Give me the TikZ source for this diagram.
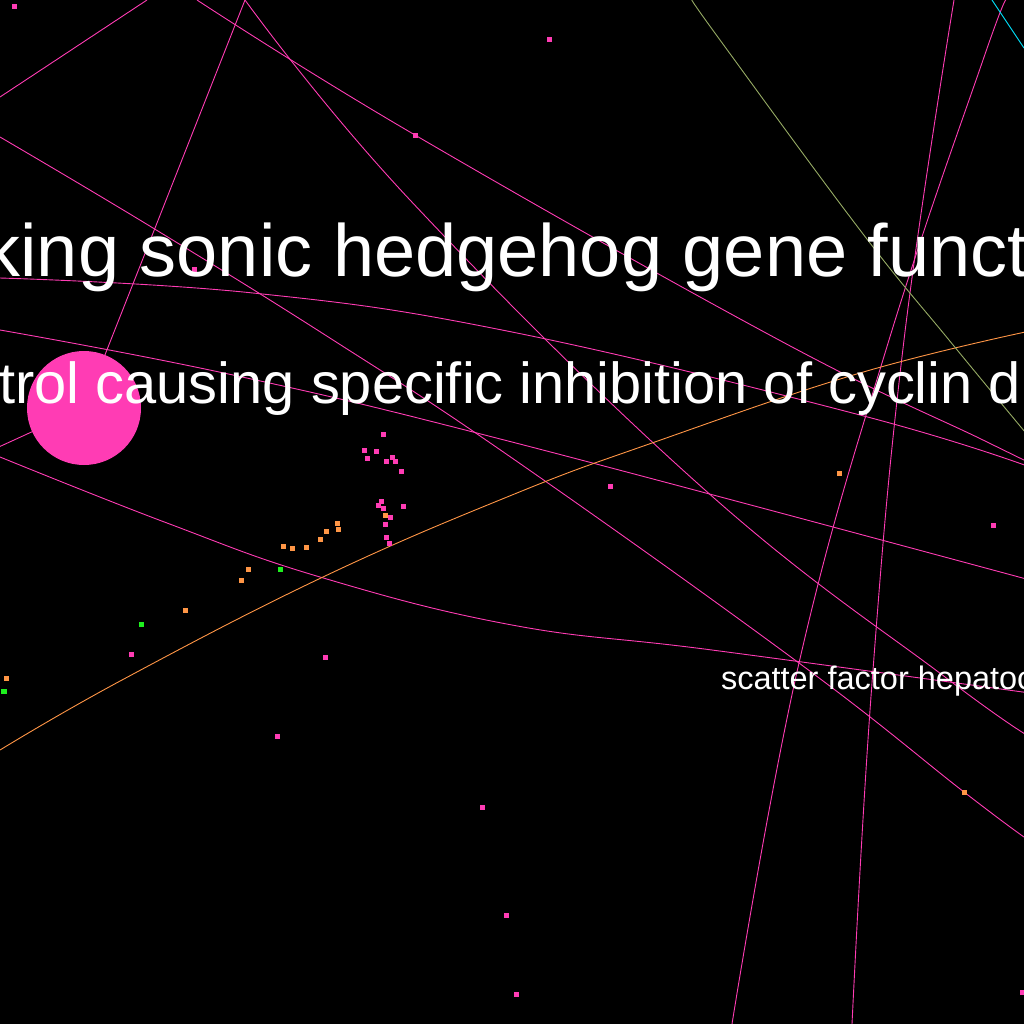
\documentclass[tikz,border=0pt]{standalone}
\usepackage{fontspec}
\setmainfont{Liberation Sans}
\definecolor{hpink}{RGB}{255,60,180}
\definecolor{horange}{RGB}{255,150,70}
\definecolor{hgreen}{RGB}{30,240,30}
\definecolor{hcyan}{RGB}{0,230,255}
\definecolor{holive}{RGB}{150,170,100}
\begin{document}
\begin{tikzpicture}[x=1bp,y=-1bp,
  pedge/.style={line width=0.9bp, draw=hpink},
  oedge/.style={line width=0.9bp, draw=horange},
  cedge/.style={line width=0.9bp, draw=hcyan},
  vedge/.style={line width=0.9bp, draw=holive},
  sq/.style={rectangle, inner sep=0, minimum size=5bp},
  pdot/.style={sq, fill=hpink},
  odot/.style={sq, fill=horange},
  gdot/.style={sq, fill=hgreen},
  hub/.style={circle, inner sep=0, minimum size=114bp, fill=hpink},
  lbl/.style={anchor=base west, inner sep=0, outer sep=0, text=white}]
\fill[black] (0,0) rectangle (1024,1024);
\useasboundingbox (0,0) rectangle (1024,1024);
\clip (0,0) rectangle (1024,1024);
\coordinate (hubc) at (84,408);
% edges
\draw[pedge] (0,97) -- (147,0);
\draw[pedge] plot[smooth, tension=0.7] coordinates {(0,137) (153,228) (333,340) (512,458) (799,663) (964,792) (1024,837)};
\draw[pedge] plot[smooth, tension=0.7] coordinates {(245,0) (410,200) (705,490) (945,677) (1030,737)};
\draw[pedge] plot[smooth, tension=0.7] coordinates {(197,0) (415,135) (779,340) (983,440) (1030,463)};
\draw[pedge] plot[smooth, tension=0.7] coordinates {(0,278) (253,293) (512,332) (860,415) (1030,467)};
\draw[pedge] plot[smooth, tension=0.7] coordinates {(0,330) (233,375) (512,442) (1030,580)};
\draw[pedge] (-10,451) -- (hubc);
\draw[pedge] (hubc) -- (245,0);
\draw[pedge] plot[smooth, tension=0.7] coordinates {(0,457) (167,523) (320,577) (512,625) (712,650) (1030,693)};
\draw[pedge] plot[smooth, tension=0.7] coordinates {(1006,0) (983,60) (889,340) (799,663) (732,1024)};
\draw[pedge] plot[smooth, tension=0.7] coordinates {(954,0) (904,340) (872,683) (852,1024)};
\draw[oedge] plot[smooth, tension=0.7] coordinates {(1030,331) (860,373) (652,443) (512,495) (323,577) (122,680) (0,750)};
\draw[vedge] plot[smooth, tension=0.7] coordinates {(692,0) (720,40) (860,230) (949,340) (1030,438)};
\draw[cedge] (992,0) -- (1024,48);
% hub circle
\node[hub] (h) at (hubc) {};
% dots
\foreach \x/\y [count=\i] in {14/6, 549/39, 415/135, 194/269, 383/434, 364/450, 376/451, 367/458, 386/461, 392/457, 395/461, 401/471, 381/501, 378/505, 383/508, 403/506, 390/517, 385/524, 386/537, 389/543, 131/654, 325/657, 277/736, 482/807, 506/915, 516/994, 610/486, 993/525, 1022/992}
  \node[pdot] (p\i) at (\x,\y) {};
\foreach \x/\y [count=\i] in {385/515, 337/523, 338/529, 326/531, 320/539, 306/547, 292/548, 283/546, 248/569, 241/580, 185/610, 6/678, 839/473, 964/792}
  \node[odot] (o\i) at (\x,\y) {};
\foreach \x/\y [count=\i] in {280/569, 141/624, 4/691}
  \node[gdot] (g\i) at (\x,\y) {};
% labels
\node[lbl, font=\fontsize{74bp}{80bp}\selectfont] (t1) at (-16.5,276) {king sonic hedgehog gene funct};
\node[lbl, font=\fontsize{57.8bp}{64bp}\selectfont] (t2) at (-0.5,403) {trol causing specific inhibition of cyclin d};
\node[lbl, font=\fontsize{32.5bp}{36bp}\selectfont] (t3) at (721,689) {scatter factor hepatoc};
\end{tikzpicture}
\end{document}
